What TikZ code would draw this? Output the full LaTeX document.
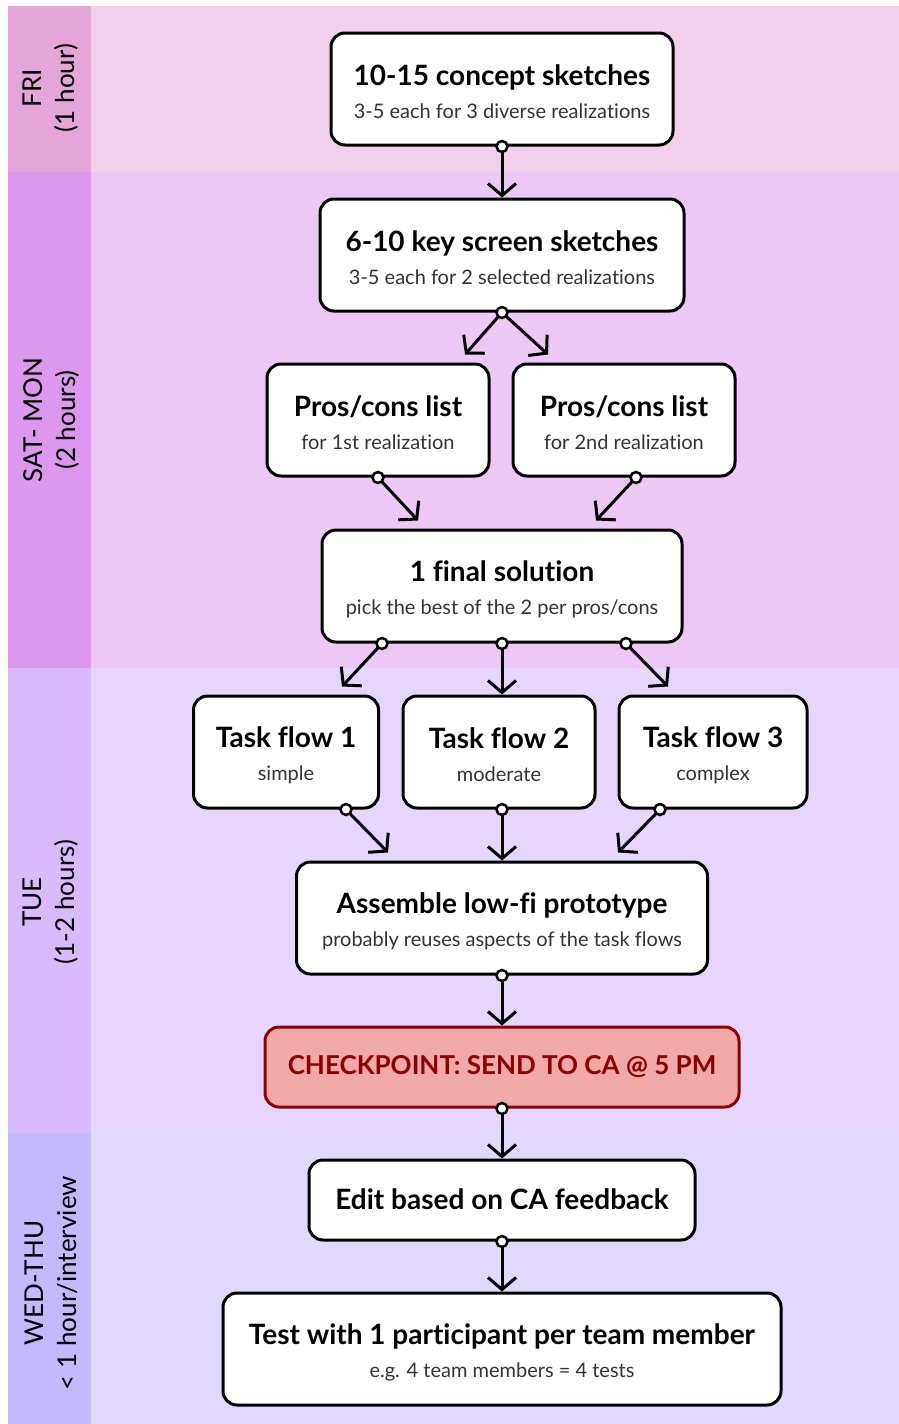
\documentclass[tikz,border=0pt]{standalone}
\usepackage{fontspec}
\setmainfont{Lato}[Ligatures=NoCommon]
\usepackage{xcolor}
\usetikzlibrary{arrows.meta,calc}

\definecolor{friside}{HTML}{E4A6D6}
\definecolor{fripane}{HTML}{F0D0EA}
\definecolor{satside}{HTML}{DC98EE}
\definecolor{satpane}{HTML}{ECC8F4}
\definecolor{tueside}{HTML}{D8BAFF}
\definecolor{tuepane}{HTML}{E6D6FF}
\definecolor{wedside}{HTML}{C4B8FF}
\definecolor{wedpane}{HTML}{E0D8FF}
\definecolor{ckfill}{HTML}{F0A8A8}
\definecolor{ckline}{HTML}{8B0000}
\definecolor{notegray}{HTML}{333333}

\newcommand{\boxtitle}[1]{{\fontsize{28}{32}\selectfont\bfseries\rule[-9.6pt]{0pt}{37.6pt}#1}}
\newcommand{\boxnote}[1]{{\fontsize{20}{24}\selectfont\color{notegray}\rule[-2.6pt]{0pt}{19.4pt}#1}}

\begin{document}
\begin{tikzpicture}[x=1pt, y=-1pt,
    card/.style={draw, line width=3pt, rounded corners=14pt, fill=white, align=center, inner sep=0pt, minimum height=112pt},
    slim/.style={card, minimum height=80pt},
    alarm/.style={slim, draw=ckline, fill=ckfill, text=ckline},
    daylabel/.style={rotate=90, align=center, font=\fontsize{26}{33}\selectfont},
    flow/.style={line width=3pt, -{Straight Barb[length=12pt, width=28pt, line width=3pt]}},
    dot/.style={draw, line width=2.5pt, fill=white}]
     \useasboundingbox (0,0) rectangle (899,1424);
     \fill[white] (0,0) rectangle (899,1424);

     \fill[friside] (8,6) rectangle (91,172);
     \fill[fripane] (91,6) rectangle (899,172);
     \fill[satside] (8,172) rectangle (91,668);
     \fill[satpane] (91,172) rectangle (899,668);
     \fill[tueside] (8,668) rectangle (91,1133);
     \fill[tuepane] (91,668) rectangle (899,1133);
     \fill[wedside] (8,1133) rectangle (91,1424);
     \fill[wedpane] (91,1133) rectangle (899,1424);

     \node[daylabel] (fri) at (51,88) {FRI\\(1 hour)};
     \node[daylabel] (sat) at (51,420) {SAT- MON\\(2 hours)};
     \node[daylabel] (tue) at (51,902) {TUE\\(1-2 hours)};
     \node[daylabel] (wed) at (51,1283) {WED-THU\\< 1 hour/interview};

     \node[card, minimum width=342pt] (concept) at (502,89) {\boxtitle{10-15 concept sketches}\\[6pt]\boxnote{3-5 each for 3 diverse realizations}};
     \node[card, minimum width=364pt] (key) at (502,255) {\boxtitle{6-10 key screen sketches}\\[6pt]\boxnote{3-5 each for 2 selected realizations}};
     \node[card, minimum width=222pt] (pros1) at (378,420) {\boxtitle{Pros/cons list}\\[6pt]\boxnote{for 1st realization}};
     \node[card, minimum width=222pt] (pros2) at (624,420) {\boxtitle{Pros/cons list}\\[6pt]\boxnote{for 2nd realization}};
     \node[card, minimum width=360pt] (final) at (502,586) {\boxtitle{1 final solution}\\[6pt]\boxnote{pick the best of the 2 per pros/cons}};
     \node[card, minimum width=185pt] (flow1) at (286,752) {\boxtitle{Task flow 1}\\[6pt]\boxnote{simple}};
     \node[card, minimum width=192pt] (flow2) at (499,752) {\boxtitle{Task flow 2}\\[6pt]\boxnote{moderate}};
     \node[card, minimum width=188pt] (flow3) at (713,752) {\boxtitle{Task flow 3}\\[6pt]\boxnote{complex}};
     \node[card, minimum width=411pt] (proto) at (502,918) {\boxtitle{Assemble low-fi prototype}\\[6pt]\boxnote{probably reuses aspects of the task flows}};
     \node[alarm, minimum width=474pt, font=\fontsize{26}{30}\selectfont\bfseries] (check) at (502,1067) {\rule[-4pt]{0pt}{23pt}CHECKPOINT: SEND TO CA @ 5 PM};
     \node[slim, minimum width=386pt] (edit) at (502,1200) {\boxtitle{Edit based on CA feedback}};
     \node[card, minimum width=558pt] (test) at (502,1349) {\boxtitle{Test with 1 participant per team member}\\[6pt]\boxnote{e.g. 4 team members = 4 tests}};

     \draw[flow] (concept.south) -- (key.north);
     \draw[flow] (key.south) -- ($(pros1.north)+(87,-8)$);
     \draw[flow] (key.south) -- ($(pros2.north)+(-76,-8)$);
     \draw[flow] (pros1.south) -- ($(final.north)+(-84,-8)$);
     \draw[flow] ($(pros2.south)+(12,0)$) -- ($(final.north)+(94,-8)$);
     \draw[flow] ($(final.south)+(-120,0)$) -- ($(flow1.north)+(56,-8)$);
     \draw[flow] (final.south) -- (final.south |- flow2.north);
     \draw[flow] ($(final.south)+(124,0)$) -- ($(flow3.north)+(-45,-8)$);
     \draw[flow] ($(flow1.south)+(60,0)$) -- ($(proto.north)+(-114,-8)$);
     \draw[flow] (flow2.south -| proto.north) -- (proto.north);
     \draw[flow] ($(flow3.south)+(-53,0)$) -- ($(proto.north)+(116,-8)$);
     \draw[flow] (proto.south) -- (check.north);
     \draw[flow] (check.south) -- (edit.north);
     \draw[flow] (edit.south) -- (test.north);

     \foreach \p in {concept.south, key.south, pros1.south, final.south, proto.south, check.south, edit.south}
          \draw[dot] (\p) circle (5.5pt);
     \draw[dot] ($(pros2.south)+(12,0)$) circle (5.5pt);
     \draw[dot] ($(final.south)+(-120,0)$) circle (5.5pt);
     \draw[dot] ($(final.south)+(124,0)$) circle (5.5pt);
     \draw[dot] ($(flow1.south)+(60,0)$) circle (5.5pt);
     \draw[dot] (flow2.south -| proto.north) circle (5.5pt);
     \draw[dot] ($(flow3.south)+(-53,0)$) circle (5.5pt);
\end{tikzpicture}
\end{document}
